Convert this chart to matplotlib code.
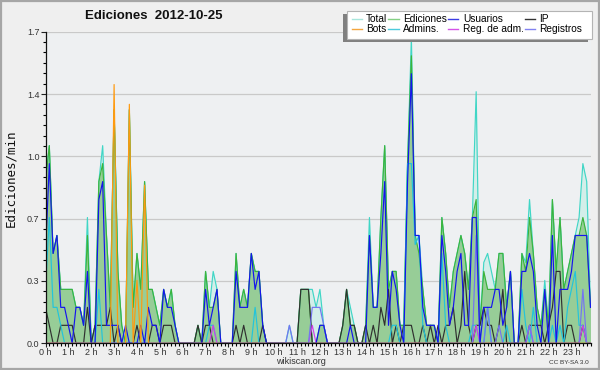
import numpy as np
import matplotlib
matplotlib.use("Agg")
import matplotlib.pyplot as plt
from matplotlib.lines import Line2D
from matplotlib.patches import Rectangle

plt.rcParams["font.family"] = ["Liberation Sans", "DejaVu Sans"]

# ---------------------------------------------------------------- datos
# un punto cada 10 minutos (144 puntos), valores en ediciones/min
BIN_MIN = 10

total = [
    0.9, 1.1, 0.5, 0.6, 0.3, 0.3,   # 0 h
    0.3, 0.3, 0.2, 0.2, 0.1, 0.7,   # 1 h
    0.0, 0.1, 0.9, 1.1, 0.6, 0.2,   # 2 h
    1.3, 0.4, 0.1, 0.0, 1.3, 0.2,   # 3 h
    0.5, 0.3, 0.9, 0.3, 0.3, 0.2,   # 4 h
    0.1, 0.3, 0.2, 0.3, 0.1, 0.0,   # 5 h
    0.0, 0.0, 0.0, 0.0, 0.1, 0.0,   # 6 h
    0.4, 0.2, 0.4, 0.3, 0.0, 0.0,   # 7 h
    0.0, 0.0, 0.5, 0.2, 0.3, 0.2,   # 8 h
    0.5, 0.4, 0.4, 0.1, 0.0, 0.0,   # 9 h
    0.0, 0.0, 0.0, 0.0, 0.1, 0.0,   # 10 h
    0.0, 0.3, 0.3, 0.3, 0.3, 0.2,   # 11 h
    0.3, 0.1, 0.0, 0.0, 0.0, 0.0,   # 12 h
    0.1, 0.3, 0.2, 0.1, 0.0, 0.0,   # 13 h
    0.1, 0.7, 0.2, 0.2, 0.7, 1.1,   # 14 h
    0.3, 0.4, 0.4, 0.1, 0.1, 1.0,   # 15 h
    1.7, 0.6, 0.6, 0.3, 0.1, 0.1,   # 16 h
    0.1, 0.0, 0.7, 0.5, 0.2, 0.4,   # 17 h
    0.5, 0.6, 0.5, 0.3, 0.7, 1.4,   # 18 h
    0.1, 0.45, 0.5, 0.4, 0.3, 0.5,  # 19 h
    0.5, 0.2, 0.4, 0.0, 0.0, 0.5,   # 20 h
    0.45, 0.8, 0.5, 0.2, 0.1, 0.35, # 21 h
    0.1, 0.8, 0.4, 0.7, 0.3, 0.4,   # 22 h
    0.5, 0.6, 0.7, 1.0, 0.9, 0.2,   # 23 h
]
ediciones = [
    0.9, 1.1, 0.5, 0.6, 0.3, 0.3,
    0.3, 0.3, 0.2, 0.2, 0.1, 0.6,
    0.0, 0.1, 0.9, 1.0, 0.6, 0.2,
    1.3, 0.4, 0.1, 0.0, 1.3, 0.2,
    0.5, 0.3, 0.9, 0.3, 0.3, 0.2,
    0.1, 0.3, 0.2, 0.3, 0.1, 0.0,
    0.0, 0.0, 0.0, 0.0, 0.1, 0.0,
    0.4, 0.2, 0.2, 0.3, 0.0, 0.0,
    0.0, 0.0, 0.5, 0.2, 0.3, 0.2,
    0.5, 0.4, 0.4, 0.1, 0.0, 0.0,
    0.0, 0.0, 0.0, 0.0, 0.0, 0.0,
    0.0, 0.3, 0.3, 0.3, 0.0, 0.0,
    0.1, 0.1, 0.0, 0.0, 0.0, 0.0,
    0.1, 0.3, 0.1, 0.1, 0.0, 0.0,
    0.1, 0.6, 0.2, 0.2, 0.7, 1.1,
    0.3, 0.4, 0.4, 0.1, 0.1, 1.0,
    1.6, 0.6, 0.5, 0.3, 0.1, 0.1,
    0.1, 0.0, 0.7, 0.5, 0.2, 0.4,
    0.5, 0.6, 0.5, 0.3, 0.7, 0.8,
    0.1, 0.4, 0.3, 0.3, 0.3, 0.5,
    0.5, 0.2, 0.4, 0.0, 0.0, 0.5,
    0.4, 0.7, 0.5, 0.2, 0.1, 0.3,
    0.1, 0.8, 0.4, 0.7, 0.3, 0.4,
    0.5, 0.6, 0.6, 0.7, 0.6, 0.2,
]
usuarios = [
    0.5, 1.0, 0.5, 0.6, 0.2, 0.2,
    0.1, 0.0, 0.2, 0.2, 0.1, 0.4,
    0.0, 0.0, 0.8, 0.9, 0.1, 0.1,
    0.1, 0.1, 0.0, 0.1, 0.0, 0.0,
    0.0, 0.1, 0.0, 0.2, 0.1, 0.1,
    0.0, 0.3, 0.2, 0.2, 0.1, 0.0,
    0.0, 0.0, 0.0, 0.0, 0.0, 0.0,
    0.3, 0.1, 0.2, 0.3, 0.0, 0.0,
    0.0, 0.0, 0.4, 0.2, 0.2, 0.2,
    0.5, 0.3, 0.4, 0.1, 0.0, 0.0,
    0.0, 0.0, 0.0, 0.0, 0.0, 0.0,
    0.0, 0.0, 0.0, 0.0, 0.0, 0.0,
    0.1, 0.1, 0.0, 0.0, 0.0, 0.0,
    0.0, 0.0, 0.1, 0.0, 0.0, 0.0,
    0.0, 0.6, 0.2, 0.2, 0.5, 0.9,
    0.1, 0.4, 0.3, 0.1, 0.0, 0.9,
    1.5, 0.6, 0.6, 0.2, 0.1, 0.1,
    0.1, 0.0, 0.6, 0.4, 0.1, 0.2,
    0.4, 0.5, 0.1, 0.1, 0.7, 0.7,
    0.0, 0.2, 0.2, 0.2, 0.3, 0.3,
    0.1, 0.2, 0.4, 0.0, 0.0, 0.4,
    0.4, 0.5, 0.4, 0.1, 0.0, 0.3,
    0.0, 0.6, 0.0, 0.3, 0.3, 0.3,
    0.4, 0.6, 0.6, 0.6, 0.6, 0.2,
]
ip = [
    0.2, 0.1, 0.0, 0.0, 0.1, 0.1,
    0.1, 0.1, 0.0, 0.0, 0.0, 0.2,
    0.0, 0.1, 0.1, 0.1, 0.1, 0.2,
    0.0, 0.1, 0.0, 0.0, 0.0, 0.0,
    0.1, 0.0, 0.0, 0.0, 0.1, 0.1,
    0.0, 0.1, 0.1, 0.1, 0.0, 0.0,
    0.0, 0.0, 0.0, 0.0, 0.1, 0.0,
    0.1, 0.1, 0.0, 0.0, 0.0, 0.0,
    0.0, 0.0, 0.1, 0.0, 0.1, 0.0,
    0.0, 0.0, 0.0, 0.1, 0.0, 0.0,
    0.0, 0.0, 0.0, 0.0, 0.0, 0.0,
    0.0, 0.3, 0.3, 0.3, 0.0, 0.0,
    0.0, 0.0, 0.0, 0.0, 0.0, 0.0,
    0.1, 0.3, 0.1, 0.1, 0.0, 0.0,
    0.1, 0.0, 0.1, 0.0, 0.2, 0.1,
    0.3, 0.0, 0.1, 0.0, 0.1, 0.1,
    0.1, 0.0, 0.0, 0.1, 0.0, 0.1,
    0.0, 0.1, 0.0, 0.1, 0.1, 0.2,
    0.0, 0.1, 0.4, 0.1, 0.0, 0.1,
    0.1, 0.2, 0.1, 0.1, 0.0, 0.1,
    0.3, 0.0, 0.0, 0.0, 0.0, 0.1,
    0.0, 0.1, 0.1, 0.1, 0.1, 0.0,
    0.1, 0.2, 0.4, 0.4, 0.0, 0.1,
    0.1, 0.0, 0.0, 0.1, 0.0, 0.0,
]
bots = [0.0] * 18 + [1.44, 0.0, 0.0, 0.0, 1.33, 0.0,
                     0.35, 0.0, 0.88] + [0.0] * 117
admins = [
    0.3, 0.7, 0.2, 0.2, 0.1, 0.0,
    0.0, 0.0, 0.0, 0.0, 0.0, 0.0,
    0.0, 0.0, 0.3, 0.0, 0.0, 0.0,
    0.0, 0.0, 0.0, 0.0, 0.0, 0.0,
    0.0, 0.0, 0.0, 0.0, 0.0, 0.0,
    0.0, 0.0, 0.0, 0.0, 0.0, 0.0,
    0.0, 0.0, 0.0, 0.0, 0.0, 0.0,
    0.0, 0.1, 0.1, 0.0, 0.0, 0.0,
    0.0, 0.0, 0.0, 0.0, 0.0, 0.0,
    0.0, 0.2, 0.0, 0.0, 0.0, 0.0,
    0.0, 0.0, 0.0, 0.0, 0.0, 0.0,
    0.0, 0.0, 0.0, 0.0, 0.0, 0.0,
    0.0, 0.0, 0.0, 0.0, 0.0, 0.0,
    0.0, 0.0, 0.0, 0.0, 0.0, 0.0,
    0.0, 0.0, 0.0, 0.0, 0.0, 0.0,
    0.0, 0.1, 0.1, 0.0, 0.0, 1.0,
    1.0, 0.55, 0.6, 0.1, 0.0, 0.0,
    0.0, 0.0, 0.5, 0.1, 0.0, 0.0,
    0.0, 0.0, 0.0, 0.0, 0.1, 0.1,
    0.0, 0.0, 0.2, 0.0, 0.0, 0.0,
    0.0, 0.1, 0.0, 0.0, 0.0, 0.3,
    0.1, 0.0, 0.2, 0.0, 0.0, 0.0,
    0.0, 0.1, 0.0, 0.1, 0.0, 0.2,
    0.3, 0.4, 0.1, 0.1, 0.0, 0.0,
]
reg_adm = [0.0] * 144
for i in (44, 70, 113, 127, 141):
    reg_adm[i] = 0.1
registros = [0.0] * 144
for i, v in ((64, 0.1), (70, 0.2), (71, 0.2), (72, 0.2), (73, 0.1),
             (113, 0.6), (116, 0.2), (119, 0.1), (127, 0.1), (141, 0.3)):
    registros[i] = v

hours = np.arange(len(total)) * BIN_MIN / 60.0
hour_ticks = list(range(24))
hour_labels = [f"{h} h" for h in hour_ticks]

# ---------------------------------------------------------------- colores
C_TOTAL = "#40d6c6"
C_TOTAL_FILL = "#d3eee9"
C_EDIC = "#3cb43c"
C_EDIC_FILL = "#97cd97"
C_USU = "#1414ee"
C_IP = "#303030"
C_BOTS = "#ff9a10"
C_ADM = "#22c4dc"
C_REGADM = "#d040e8"
C_REG = "#7474f2"

# ---------------------------------------------------------------- figura
W, H = 600, 370
fig = plt.figure(figsize=(W / 100, H / 100), dpi=100, facecolor="#efefef")
ax = fig.add_axes([45.5 / W, 26.7 / H, 545 / W, 311.6 / H])
ax.set_facecolor("#eef0f2")

LW = 0.85
ax.fill_between(hours, total, color=C_TOTAL_FILL, lw=0, zorder=1)
ax.fill_between(hours, ediciones, color=C_EDIC_FILL, lw=0, zorder=2)
ax.plot(hours, total, color=C_TOTAL, lw=LW, zorder=3)
ax.plot(hours, ediciones, color=C_EDIC, lw=LW, zorder=4)
ax.plot(hours, ip, color=C_IP, lw=LW, zorder=5)
ax.plot(hours, admins, color=C_ADM, lw=LW, zorder=6)
ax.plot(hours, reg_adm, color=C_REGADM, lw=LW, zorder=6)
ax.plot(hours, registros, color=C_REG, lw=LW, zorder=6)
ax.plot(hours, usuarios, color=C_USU, lw=LW, zorder=7)
ax.plot(hours, bots, color=C_BOTS, lw=LW, zorder=8)

ymax = 1.734
ax.set_ylim(0, ymax)
ax.set_xlim(0, hours[-1])
yt = np.linspace(0, ymax, 6)
ax.set_yticks(yt)
ax.set_yticklabels([f"{v:.1f}" for v in yt])
ax.set_yticks(np.linspace(0, ymax, 31), minor=True)
ax.set_xticks(hour_ticks)
ax.set_xticklabels(hour_labels)
ax.set_xticks(np.arange(0, hours[-1] + 1e-6, BIN_MIN / 60.0), minor=True)

ax.tick_params(axis="both", which="major", labelsize=6.5, colors="#222222",
               labelcolor="#333333", width=0.8, direction="out")
ax.tick_params(axis="y", which="major", length=3.6, pad=0.8)
ax.tick_params(axis="y", which="minor", length=2.2, width=0.8)
ax.tick_params(axis="x", which="major", length=3.0, pad=0.6)
ax.tick_params(axis="x", which="minor", length=2.2, width=0.8)

for s in ("top", "right"):
    ax.spines[s].set_visible(False)
for s in ("left", "bottom"):
    ax.spines[s].set_color("#111111")
    ax.spines[s].set_linewidth(0.9)
    ax.spines[s].set_zorder(10)

ax.yaxis.grid(True, which="major", color="#c9c9c9", lw=0.9)
ax.set_axisbelow(True)

fig.text(11 / W, 1 - 178 / H, "Ediciones/min", rotation=90, ha="center",
         va="center", family="DejaVu Sans Mono", fontsize=9, color="#111111")

fig.text(154 / W, 1 - 16 / H, "Ediciones  2012-10-25", ha="center",
         va="center", fontsize=9.5, fontweight="bold", color="#111111")
fig.text(300.5 / W, 1 - 361 / H, "wikiscan.org", ha="center", va="center",
         fontsize=6.5, color="#333333")
fig.text(589 / W, 1 - 362 / H, "CC BY-SA 3.0", ha="right", va="center",
         fontsize=4.6, color="#333333")

# ---------------------------------------------------------------- leyenda
def px_rect(x0, y0, x1, y1, **kw):
    return Rectangle((x0 / W, 1 - y1 / H), (x1 - x0) / W, (y1 - y0) / H,
                     transform=fig.transFigure, **kw)

fig.add_artist(px_rect(343, 14.2, 588, 42.2, fc="#808080", ec="none",
                       zorder=3))
fig.add_artist(px_rect(347, 10.7, 592, 38.7, fc="white", ec="#b4b4b4",
                       lw=0.8, zorder=4))

leg_items = [
    ("Total", "#a8e6dc"), ("Bots", "#f4a640"),
    ("Ediciones", "#84d084"), ("Admins.", "#4ccbdc"),
    ("Usuarios", "#3c3ce4"), ("Reg. de adm.", "#d452e8"),
    ("IP", "#333333"), ("Registros", "#8282f0"),
]
handles = [Line2D([], [], color=c, lw=1.0) for _, c in leg_items]
labels = [n for n, _ in leg_items]
leg = fig.legend(handles, labels, ncol=4, loc="upper left",
                 bbox_to_anchor=(351.5 / W, 1 - 14.5 / H), frameon=False,
                 fontsize=7.3, handlelength=1.0, handletextpad=0.45,
                 columnspacing=0.1, labelspacing=0.0, borderpad=0,
                 borderaxespad=0)
leg.set_zorder(5)

# marco exterior
fig.add_artist(px_rect(1, 1, 599, 369, fc="none", ec="#a6a6a6", lw=1.6,
                       zorder=6))

fig.savefig("out.png", dpi=100, facecolor=fig.get_facecolor())
